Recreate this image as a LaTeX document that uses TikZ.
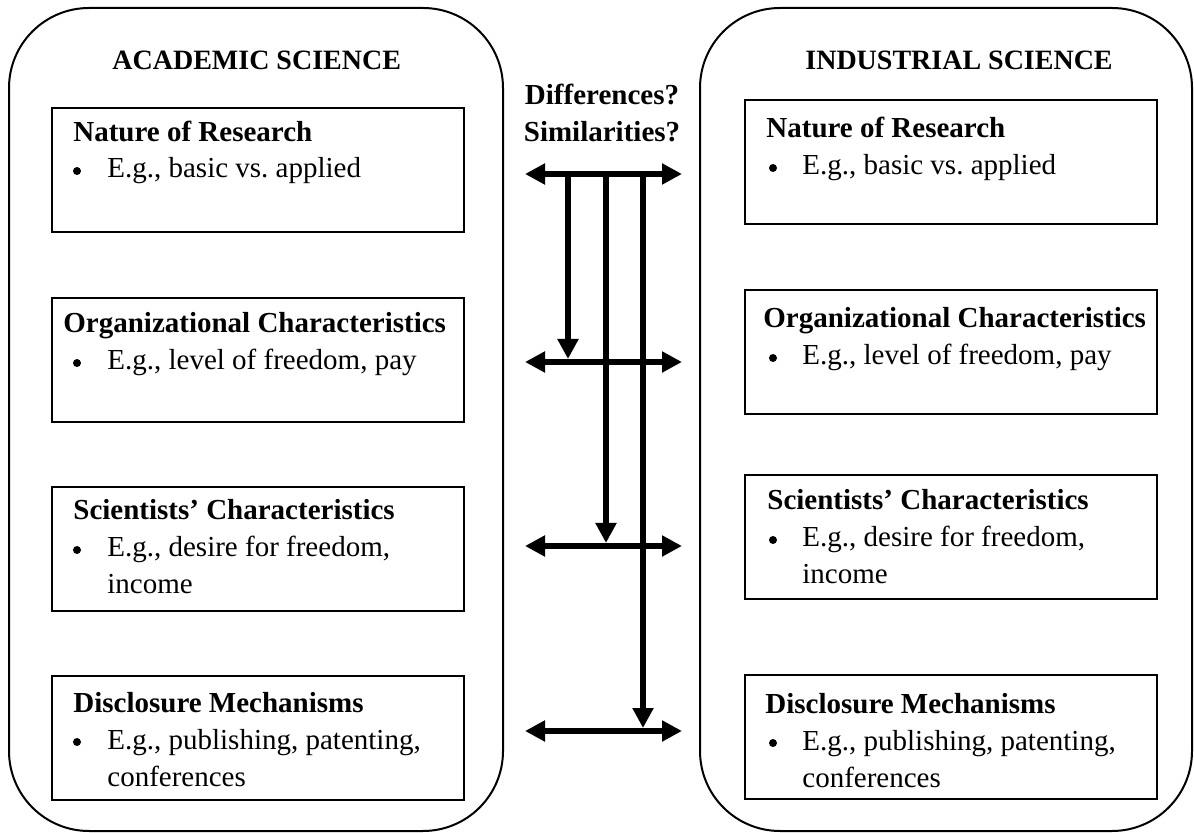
\documentclass[tikz,border=0pt]{standalone}
\usepackage{fontspec}
\setmainfont{Liberation Serif}
\usetikzlibrary{arrows.meta}
\frenchspacing
\begin{document}
\begin{tikzpicture}[x=0.5pt,y=-0.5pt,
  panel/.style={draw, line width=1pt, rounded corners=40pt},
  itembox/.style={draw, line width=1pt, rectangle, minimum width=206pt, minimum height=62pt, anchor=north west, inner sep=0pt},
  head/.style={font=\fontsize{14.5}{18.5}\selectfont\bfseries, anchor=base west, inner sep=0pt},
  title/.style={font=\fontsize{14}{18}\selectfont\bfseries, anchor=base west, inner sep=0pt},
  txt/.style={font=\fontsize{14.5}{18.5}\selectfont, anchor=base west, inner sep=0pt},
  bul/.style={fill, circle, inner sep=0pt, minimum size=4pt},
  dbl/.style={line width=3pt, {Triangle[length=10pt,width=10pt]}-{Triangle[length=10pt,width=10pt]}},
  down/.style={line width=3pt, -{Triangle[length=10pt,width=10pt]}}
]
\useasboundingbox (0,0) rectangle (1194,833);

% outer panels
\draw[panel] (9,8) rectangle (503,831);
\draw[panel] (700,8) rectangle (1192,831);

% titles
\node[title] (tA) at (112,70) {ACADEMIC SCIENCE};
\node[title] (tI) at (805,70) {INDUSTRIAL SCIENCE};
\node[head, anchor=base] (q1) at (602,105) {Differences?};
\node[head, anchor=base] (q2) at (602,142) {Similarities?};

% left boxes
\node[itembox] (L1) at (51,107) {};
\node[itembox] (L2) at (51,297) {};
\node[itembox] (L3) at (51,486) {};
\node[itembox] (L4) at (51,675) {};
% right boxes
\node[itembox] (R1) at (744,99) {};
\node[itembox] (R2) at (744,289) {};
\node[itembox] (R3) at (744,474) {};
\node[itembox] (R4) at (744,674) {};

% left texts
\node[head] (L1h) at (73,142) {Nature of Research};
\node[bul] (L1b) at (77,171) {};
\node[txt] (L1t) at (107,178) {E.g., basic vs. applied};

\node[head] (L2h) at (63,333) {Organizational Characteristics};
\node[bul] (L2b) at (77,363) {};
\node[txt] (L2t) at (107,370) {E.g., level of freedom, pay};

\node[head] (L3h) at (73,520) {Scientists’ Characteristics};
\node[bul] (L3b) at (77,550) {};
\node[txt] (L3t) at (107,557) {E.g., desire for freedom,};
\node[txt] (L3u) at (107,594) {income};

\node[head] (L4h) at (73,712) {Disclosure Mechanisms};
\node[bul] (L4b) at (77,742) {};
\node[txt] (L4t) at (107,749) {E.g., publishing, patenting,};
\node[txt] (L4u) at (107,786) {conferences};

% right texts
\node[head] (R1h) at (766,138) {Nature of Research};
\node[bul] (R1b) at (773,168) {};
\node[txt] (R1t) at (802,175) {E.g., basic vs. applied};

\node[head] (R2h) at (763,328) {Organizational Characteristics};
\node[bul] (R2b) at (773,358) {};
\node[txt] (R2t) at (802,365) {E.g., level of freedom, pay};

\node[head] (R3h) at (767,510) {Scientists’ Characteristics};
\node[bul] (R3b) at (773,540) {};
\node[txt] (R3t) at (802,547) {E.g., desire for freedom,};
\node[txt] (R3u) at (802,584) {income};

\node[head] (R4h) at (765,713) {Disclosure Mechanisms};
\node[bul] (R4b) at (773,743) {};
\node[txt] (R4t) at (802,750) {E.g., publishing, patenting,};
\node[txt] (R4u) at (802,787) {conferences};

% arrow end points
\coordinate (a1l) at (525,174); \coordinate (a1r) at (682,174);
\coordinate (a2l) at (525,362); \coordinate (a2r) at (682,362);
\coordinate (a3l) at (525,546); \coordinate (a3r) at (682,546);
\coordinate (a4l) at (525,731); \coordinate (a4r) at (682,731);
\coordinate (v1s) at (568,174); \coordinate (v1e) at (568,359);
\coordinate (v2s) at (606,174); \coordinate (v2e) at (606,543);
\coordinate (v3s) at (643,174); \coordinate (v3e) at (643,728);

\draw[dbl] (a1l) -- (a1r);
\draw[dbl] (a2l) -- (a2r);
\draw[dbl] (a3l) -- (a3r);
\draw[dbl] (a4l) -- (a4r);
\draw[down] (v1s) -- (v1e);
\draw[down] (v2s) -- (v2e);
\draw[down] (v3s) -- (v3e);
\end{tikzpicture}
\end{document}
